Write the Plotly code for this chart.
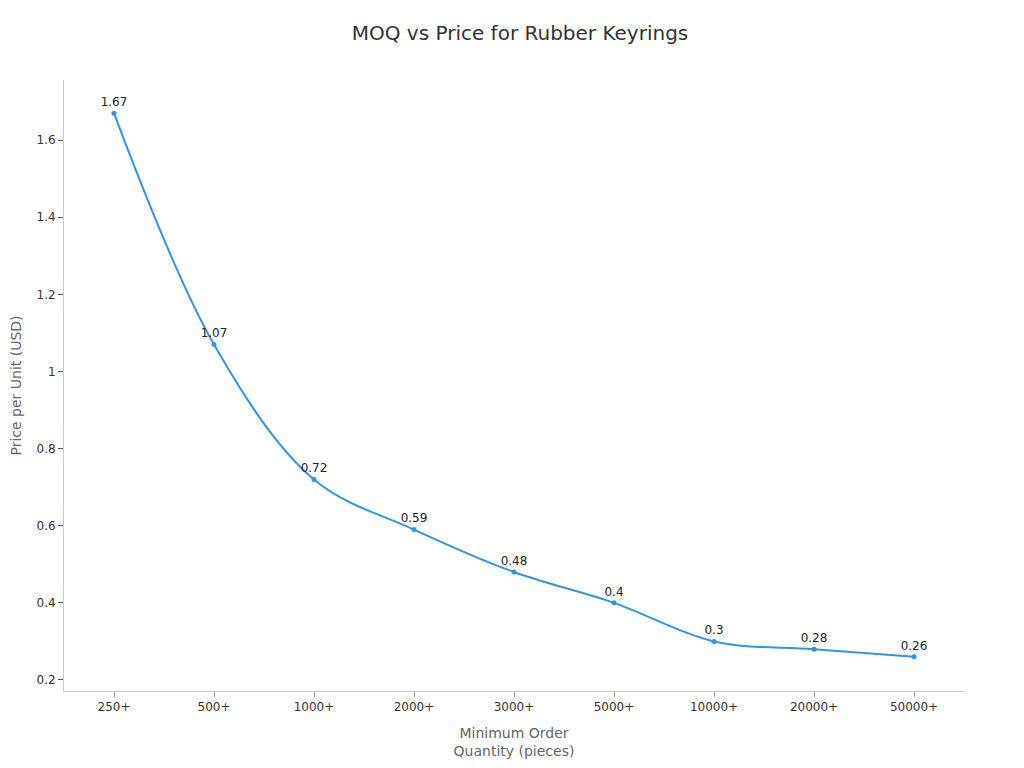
import plotly.graph_objects as go

categories = ["250+", "500+", "1000+", "2000+", "3000+", "5000+", "10000+", "20000+", "50000+"]
prices = [1.67, 1.07, 0.72, 0.59, 0.48, 0.4, 0.3, 0.28, 0.26]
labels = ["1.67", "1.07", "0.72", "0.59", "0.48", "0.4", "0.3", "0.28", "0.26"]

font_family = "DejaVu Sans"

fig = go.Figure()
fig.add_trace(go.Scatter(
    x=categories,
    y=prices,
    mode="lines+markers+text",
    text=labels,
    textposition="top center",
    textfont=dict(family=font_family, size=12, color="#222222"),
    line=dict(color="#3593e6", width=2, shape="spline", smoothing=1),
    marker=dict(color="#3593e6", size=5),
    cliponaxis=False,
    hoverinfo="x+y",
))

fig.update_layout(
    width=1024,
    height=768,
    paper_bgcolor="white",
    plot_bgcolor="white",
    margin=dict(l=56, r=68, t=72, b=85),
    showlegend=False,
    font=dict(family=font_family, color="#333333"),
    title=dict(
        text="MOQ vs Price for Rubber Keyrings",
        x=0.5,
        xanchor="center",
        y=0.967,
        yanchor="middle",
        font=dict(family=font_family, size=20, color="#333333"),
    ),
    xaxis=dict(
        title=dict(text="Minimum Order<br>Quantity (pieces)", font=dict(size=14, color="#666666"), standoff=14),
        automargin=False,
        type="category",
        range=[-0.5, 8.5],
        showgrid=False,
        zeroline=False,
        showline=True,
        linecolor="#cccccc",
        linewidth=1,
        ticks="outside",
        ticklen=5,
        tickcolor="#999999",
        tickfont=dict(size=12, color="#333333"),
    ),
    yaxis=dict(
        title=dict(text="Price per Unit (USD)", font=dict(size=14, color="#666666"), standoff=18),
        automargin=False,
        range=[0.1714, 1.756],
        tickvals=[0.2, 0.4, 0.6, 0.8, 1.0, 1.2, 1.4, 1.6],
        ticktext=["0.2", "0.4", "0.6", "0.8", "1", "1.2", "1.4", "1.6"],
        showgrid=False,
        zeroline=False,
        showline=True,
        linecolor="#cccccc",
        linewidth=1,
        ticks="outside",
        ticklen=5,
        tickcolor="#555555",
        tickfont=dict(size=12, color="#333333"),
    ),
)

fig.write_html("out.html")
